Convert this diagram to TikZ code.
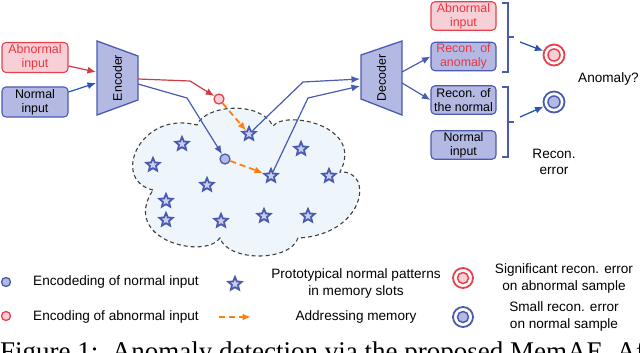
\documentclass[tikz,border=0pt]{standalone}
\usepackage{fontspec}
\newfontfamily\lsans{Liberation Sans}
\newfontfamily\lserif{Liberation Serif}
\usetikzlibrary{shapes.geometric,arrows.meta}
\definecolor{bfill}{HTML}{B4B9E3}
\definecolor{bline}{HTML}{4A5BB0}
\definecolor{pfill}{HTML}{F6D0D6}
\definecolor{rline}{HTML}{E8404C}
\definecolor{rtext}{HTML}{EE3340}
\definecolor{orng}{HTML}{FF8010}
\definecolor{cloudfill}{HTML}{EEF6FB}
\definecolor{arrblue}{HTML}{2A55B5}
\begin{document}
\begin{tikzpicture}[x=1pt,y=-1pt,
  boxtxt/.style={font=\lsans\fontsize{12.4}{14}\selectfont},
  lbl/.style={font=\lsans\fontsize{13.6}{16.5}\selectfont, align=center, inner sep=0},
  bluebox/.style={boxtxt, draw=bline, fill=bfill, line width=1.1pt, rounded corners=4pt, minimum width=66, minimum height=30, align=center, inner sep=0},
  pinkbox/.style={bluebox, draw=rline, fill=pfill, text=rtext},
  memstar/.style={star, star points=5, star point ratio=2.2, minimum size=14, inner sep=0, draw=bline, line width=1.8pt, fill=bfill!70},
  enc/.style={circle, minimum size=10, inner sep=0, line width=1.3pt},
  bconn/.style={draw=bline, line width=1.2pt},
  rconn/.style={draw=rline!90!black, line width=1.2pt},
  tip/.style={-{Latex[length=8.5pt,width=7pt]}},
  addr/.style={draw=orng, line width=1.8pt, dash pattern=on 6pt off 4pt, -{Latex[length=8.5pt,width=7pt]}},
  trap/.style={draw=bline, fill=bfill, line width=1.3pt, line join=miter}
]
\useasboundingbox (0,0) rectangle (640,353);

% memory cloud
\draw[black!75, fill=cloudfill, line width=1.1pt, dash pattern=on 4pt off 3pt]
  (153,190) .. controls (110,180) and (140,110) .. (197,125)
  .. controls (205,105) and (260,100) .. (273,126)
  .. controls (285,110) and (365,125) .. (340,172)
  .. controls (375,170) and (365,235) .. (298,238)
  .. controls (290,262) and (228,262) .. (220,238)
  .. controls (205,260) and (120,240) .. cycle;

% input boxes
\node[pinkbox] (abn) at (35,57.5) {Abnormal\\input};
\node[bluebox] (nrm) at (35,102) {Normal\\input};

% encoder
\draw[trap] (97,41) -- (138,56) -- (138,100) -- (97,115) -- cycle;
\node[boxtxt, rotate=90] (enctxt) at (117.5,78) {Encoder};
\coordinate (encInA) at (96,72);
\coordinate (encInN) at (96,83);
\coordinate (encOutA) at (138,79);
\coordinate (encOutN) at (138,84);

% decoder
\draw[trap] (361,55) -- (402,41) -- (402,115) -- (361,99) -- cycle;
\node[boxtxt, rotate=90] (dectxt) at (381.5,78) {Decoder};
\coordinate (decInA) at (360,79);
\coordinate (decInB) at (360,86);
\coordinate (decOutA) at (402,72);
\coordinate (decOutB) at (402,83);

% memory stars
\node[memstar] (s1) at (182,144) {};
\node[memstar] (s2) at (249,134) {};
\node[memstar] (s3) at (153,165) {};
\node[memstar] (s4) at (301,149) {};
\node[memstar] (s5) at (207,185) {};
\node[memstar] (s6) at (271,176) {};
\node[memstar] (s7) at (329,176) {};
\node[memstar] (s8) at (166,201) {};
\node[memstar] (s9) at (166,220) {};
\node[memstar] (s10) at (221,221) {};
\node[memstar] (s11) at (264,216) {};
\node[memstar] (s12) at (308,216) {};

% encodings
\node[enc, draw=rline, fill=pfill] (rc) at (219,99) {};
\node[enc, draw=bline, fill=bfill] (bc) at (225,159) {};

% connectors
\draw[rconn, tip] (abn.east |- 0,66) -- (encInA);
\draw[bconn, tip, draw=arrblue] (nrm.east |- 0,92) -- (encInN);
\draw[rconn, tip] (encOutA) -- (190,81) -- (rc);
\draw[bconn, tip] (encOutN) -- (187,98) -- (bc);
\draw[addr] (rc) -- (s2);
\draw[addr] (bc) -- (s6);
\draw[bconn, tip] (s2) -- (303,82) -- (decInA);
\draw[bconn, tip] (s6) -- (308,98) -- (decInB);

% output boxes
\node[pinkbox, minimum width=65, minimum height=28.5] (oabn) at (463.5,16) {Abnormal\\input};
\node[bluebox, minimum width=65, minimum height=28.5, text=rtext] (orca) at (463.5,56.5) {Recon. of\\anomaly};
\node[bluebox, minimum width=65, minimum height=28.5] (orcn) at (463.5,100) {Recon. of\\the normal};
\node[bluebox, minimum width=65, minimum height=28.5] (onrm) at (463.5,145) {Normal\\input};

\draw[bconn, tip] (decOutA) -- (orca.west);
\draw[bconn, tip] (decOutB) -- (orcn.west);

% brackets
\draw[bconn] (502,3) -- (508,3) -- (508,72) -- (502,72);
\draw[bconn] (508,37) -- (514,37);
\draw[bconn] (502,87) -- (508,87) -- (508,157) -- (502,157);
\draw[bconn] (508,122) -- (514,122);
\coordinate (brA) at (520,42);
\coordinate (brB) at (520,117);

% targets
\node[circle, minimum size=21, inner sep=0, draw=rline, line width=1.8pt] (tr) at (554,55) {};
\fill[pfill, draw=rline, line width=1.5pt] (tr.center) circle (6);
\node[circle, minimum size=21, inner sep=0, draw=bline, line width=1.8pt] (tb) at (554,102) {};
\fill[bfill, draw=bline, line width=1.5pt] (tb.center) circle (6);
\draw[draw=arrblue, line width=1.3pt, tip] (brA) -- (tr);
\draw[draw=arrblue, line width=1.3pt, tip] (brB) -- (tb);

\node[lbl, anchor=west] (anom) at (578,79) {Anomaly?};
\node[lbl] (rerr) at (554,162) {Recon.\\error};

% legend
\node[enc, draw=bline, fill=bfill, minimum size=9] (lgb) at (6,282) {};
\node[lbl, anchor=west] (lgbt) at (33,282) {Encodeding of normal input};
\node[enc, draw=rline, fill=pfill, minimum size=9] (lgr) at (6,316) {};
\node[lbl, anchor=west] (lgrt) at (33,317) {Encoding of abnormal input};
\node[memstar] (lgs) at (235,284) {};
\coordinate (lga1) at (219,317);
\coordinate (lga2) at (251,317);
\draw[addr] (lga1) -- (lga2);
\node[lbl] (lgst) at (356,283.5) {Prototypical normal patterns\\in memory slots};
\node[lbl] (lgat) at (356,317) {Addressing memory};
\node[circle, minimum size=20, inner sep=0, draw=rline, line width=1.8pt] (lgtr) at (463,278) {};
\fill[pfill, draw=rline, line width=1.5pt] (lgtr.center) circle (5.5);
\node[circle, minimum size=20, inner sep=0, draw=bline, line width=1.8pt] (lgtb) at (463,317) {};
\fill[bfill, draw=bline, line width=1.5pt] (lgtb.center) circle (5.5);
\node[lbl] (lgtrt) at (564,278.5) {Significant recon. error\\on abnormal sample};
\node[lbl] (lgtbt) at (564,316.5) {Small recon. error\\on normal sample};

% caption (cut off by the picture's lower edge, as in the reference)
\begin{scope}
\clip (0,0) rectangle (640,353);
\node[anchor=base west, inner sep=0, font=\lserif\fontsize{27}{32}\selectfont] (cap) at (0,360) {Figure 1:\ \ Anomaly detection via the proposed MemAE. After};
\end{scope}
\end{tikzpicture}
\end{document}
